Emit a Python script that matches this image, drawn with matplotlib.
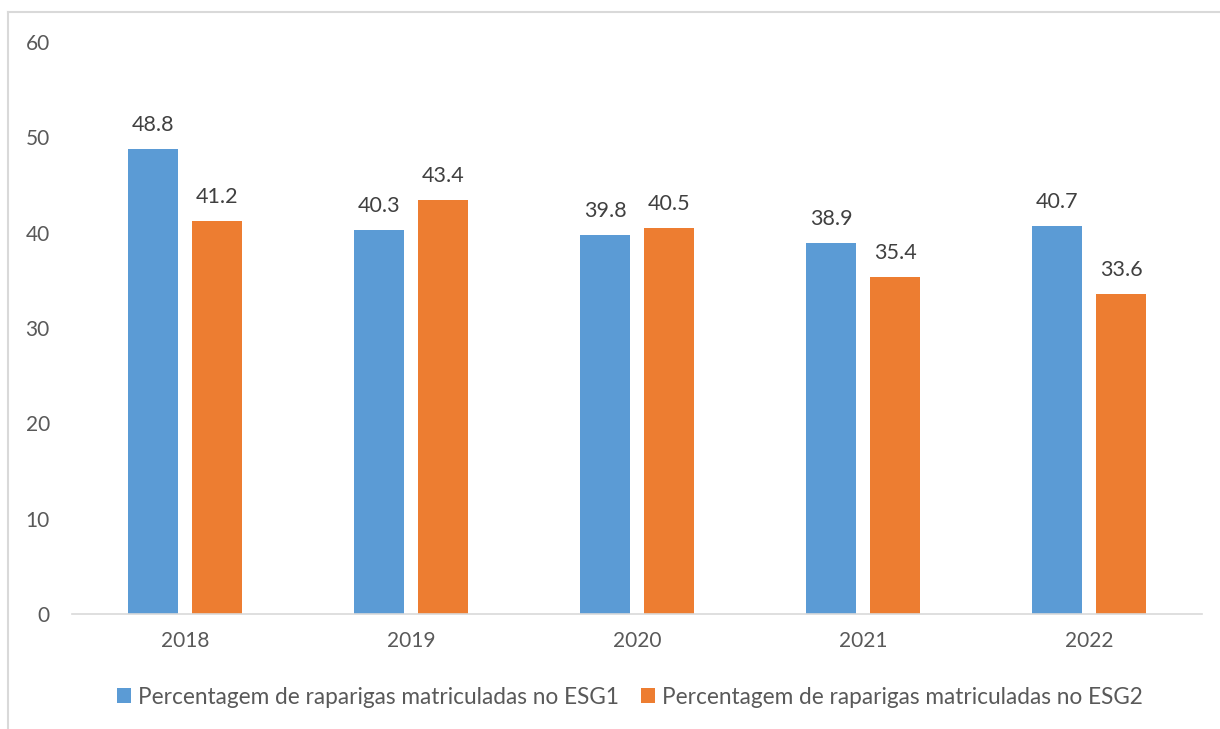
import matplotlib
matplotlib.use("Agg")
import matplotlib.pyplot as plt
import numpy as np

years = ["2018", "2019", "2020", "2021", "2022"]
esg1 = [48.8, 40.3, 39.8, 38.9, 40.7]
esg2 = [41.2, 43.4, 40.5, 35.4, 33.6]
labels = ["Percentagem de raparigas matriculadas no ESG1",
          "Percentagem de raparigas matriculadas no ESG2"]
yticks = [0, 10, 20, 30, 40, 50, 60]

plt.rcParams['font.family'] = ['Lato', 'DejaVu Sans']
txt = '#595959'
c1 = '#5b9bd5'
c2 = '#ed7d31'

fig = plt.figure(figsize=(12.2, 7.29), dpi=100)
W, H = 1220, 729
ax = fig.add_axes([72 / W, 1 - 614 / H, (1202 - 72) / W, (614 - 42) / H])

x = np.arange(len(years))
bw = 50 / 226
gap = 14 / 226
off = (bw + gap) / 2
b1 = ax.bar(x - off, esg1, bw, color=c1, label=labels[0])
b2 = ax.bar(x + off, esg2, bw, color=c2, label=labels[1])
for bars, vals in ((b1, esg1), (b2, esg2)):
    for r, v in zip(bars, vals):
        ax.annotate(f"{v:.1f}", (r.get_x() + r.get_width() / 2, v),
                    xytext=(0, 10), textcoords='offset points',
                    ha='center', va='bottom', fontsize=15.5, color='#404040')

ax.set_xlim(-0.5, len(years) - 0.5)
ax.set_ylim(0, 60)
ax.set_yticks(yticks)
ax.set_xticks(x)
ax.set_xticklabels(years)
ax.tick_params(axis='both', length=0, labelsize=15, labelcolor=txt)
ax.tick_params(axis='y', pad=16)
ax.tick_params(axis='x', pad=12)
for s in ('top', 'right', 'left'):
    ax.spines[s].set_visible(False)
ax.spines['bottom'].set_color('#d9d9d9')
ax.spines['bottom'].set_linewidth(1.2)

leg = fig.legend(handles=[b1, b2], labels=labels, loc='center',
                 bbox_to_anchor=(630 / W, 1 - 697 / H), ncol=2, frameon=False,
                 fontsize=16.3, handlelength=0.6, handleheight=0.6,
                 handletextpad=0.3, columnspacing=1.0)
for t in leg.get_texts():
    t.set_color(txt)

# outer chart border (cropped: only top & left visible)
fig.add_artist(plt.Line2D([8 / W, 8 / W], [0, 1 - 12 / H], transform=fig.transFigure,
                          color='#d9d9d9', lw=1.5))
fig.add_artist(plt.Line2D([8 / W, 1], [1 - 12 / H, 1 - 12 / H], transform=fig.transFigure,
                          color='#d9d9d9', lw=1.5))

fig.savefig("out.png", dpi=100)
